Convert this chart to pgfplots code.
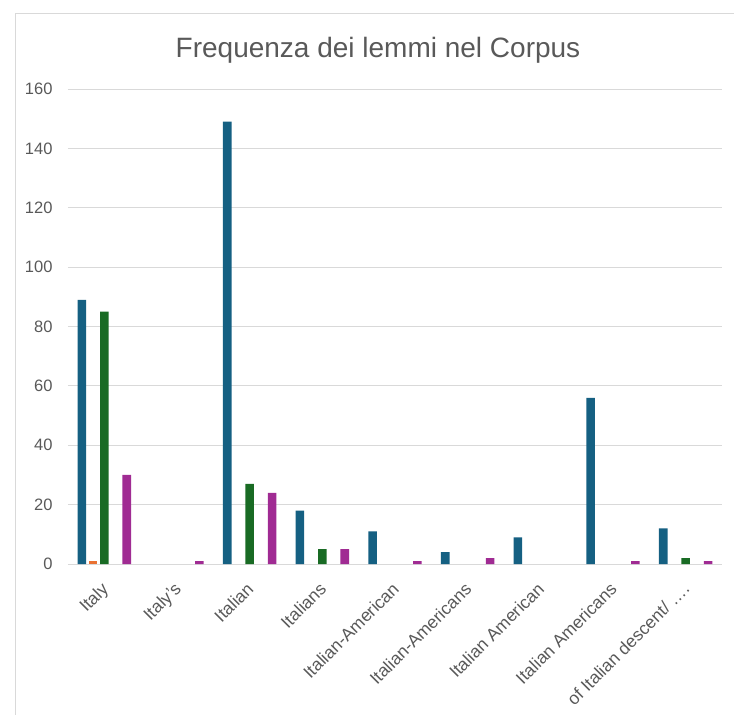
\documentclass[border=0pt]{standalone}
\usepackage{fontspec}
\setmainfont{Liberation Sans}
\usepackage{pgfplots}
\pgfplotsset{compat=1.18}
\usepackage{pgfplotstable}
\definecolor{cA}{HTML}{156082}
\definecolor{cB}{HTML}{E97132}
\definecolor{cC}{HTML}{196B24}
\definecolor{cD}{HTML}{0F9ED5}
\definecolor{cE}{HTML}{A02B93}
\definecolor{txt}{HTML}{595959}
\definecolor{grd}{HTML}{D9D9D9}
\pgfplotstableread{
x a b c d e
0 89 1 85 0 30
1 0 0 0 0 1
2 149 0 27 0 24
3 18 0 5 0 5
4 11 0 0 0 1
5 4 0 0 0 2
6 9 0 0 0 0
7 56 0 0 0 1
8 12 0 2 0 1
}\datatable
\begin{document}
\begin{tikzpicture}
\useasboundingbox (0,0) rectangle (734pt,-715pt);
\draw[grd, line width=1pt] (15pt,-715pt) -- (15pt,-13pt) -- (734pt,-13pt);
\node[txt, font=\fontsize{28}{32}\selectfont, anchor=base] at (378pt,-57pt) {Frequenza dei lemmi nel Corpus};
\begin{axis}[
  at={(68pt,-564pt)}, anchor=south west,
  scale only axis, width=654pt, height=475pt,
  xmin=-0.5, xmax=8.5, ymin=0, ymax=160,
  ytick={0,20,...,160},
  xtick={0,...,8},
  xticklabels={Italy, Italy’s, Italian, Italians, Italian-American, Italian-Americans, Italian American, Italian Americans, of Italian descent/ ….},
  axis x line*=bottom, axis y line*=left,
  x axis line style={grd, line width=1pt, -},
  y axis line style={draw=none},
  major tick length=0pt,
  ymajorgrids, grid style={grd, line width=1pt},
  tick label style={txt},
  yticklabel style={font=\fontsize{16.5}{18}\selectfont, xshift=-12pt},
  /pgf/number format/assume math mode=true,
  xticklabel style={xshift=-4pt, font=\fontsize{17.5}{20}\selectfont, rotate=45, anchor=north east, inner sep=0pt},
  xticklabel shift=17pt,
  ybar, bar width=8.6pt,
  every axis plot/.append style={draw=none},
  y filter/.expression={y==0 ? nan : y},
  unbounded coords=discard,
  clip=false,
]
\addplot[fill=cA, bar shift=-22.4pt] table[x=x,y=a]{\datatable};
\addplot[fill=cB, bar shift=-11.2pt] table[x=x,y=b]{\datatable};
\addplot[fill=cC, bar shift=0pt] table[x=x,y=c]{\datatable};
\addplot[fill=cD, bar shift=11.2pt] table[x=x,y=d]{\datatable};
\addplot[fill=cE, bar shift=22.4pt] table[x=x,y=e]{\datatable};
\end{axis}
\end{tikzpicture}
\end{document}
